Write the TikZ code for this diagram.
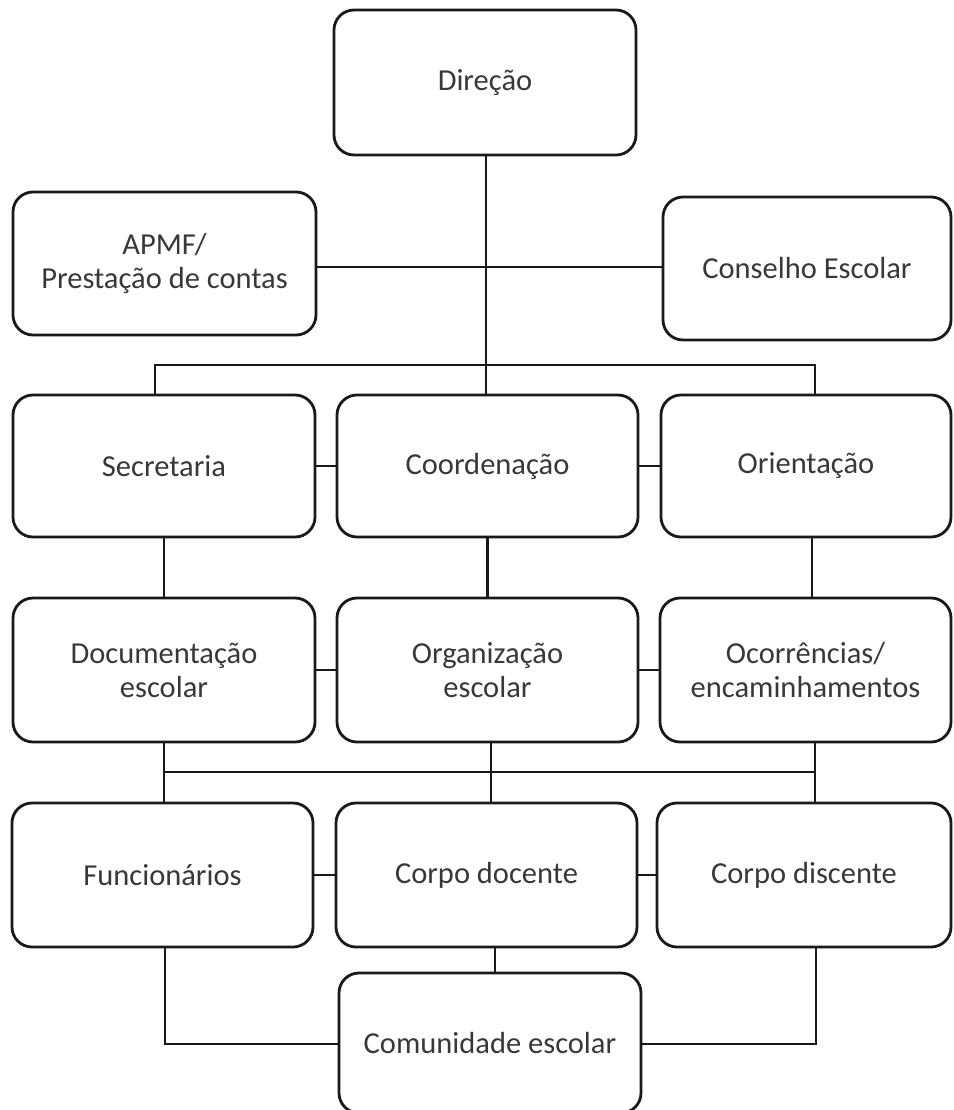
\documentclass[tikz,border=0pt]{standalone}
\usepackage{fontspec}
\setmainfont{Carlito}
\usetikzlibrary{calc}
\begin{document}
\begin{tikzpicture}[x=1pt,y=-1pt,
  box/.style={draw=black!90, line width=2.8pt, rounded corners=20pt, align=center,
    inner sep=0pt, font=\fontsize{30.5}{34}\selectfont, text=black!78},
  link/.style={draw=black!90, line width=2.8pt}]
\useasboundingbox (0,0) rectangle (953,1110);
% row 0
\node[box, minimum width=302pt, minimum height=145pt] (dir) at (485,82.5) {Direção};
% row 1
\node[box, minimum width=303pt, minimum height=143pt] (apmf) at (164.5,263.5) {APMF/\\Prestação de contas};
\node[box, minimum width=288pt, minimum height=143pt] (cons) at (807,268.5) {Conselho Escolar};
% row 2
\node[box, minimum width=302pt, minimum height=142pt] (sec) at (164,466) {Secretaria};
\node[box, minimum width=301pt, minimum height=142pt] (coord) at (487.5,466) {Coordenação};
\node[box, minimum width=290pt, minimum height=142pt] (ori) at (806,466) {Orientação};
% row 3
\node[box, minimum width=302pt, minimum height=144pt] (doc) at (164,670) {Documentação\\escolar};
\node[box, minimum width=301pt, minimum height=144pt] (org) at (487.5,670) {Organização\\escolar};
\node[box, minimum width=291pt, minimum height=144pt] (oco) at (805.5,670) {Ocorrências/\\encaminhamentos};
% row 4
\node[box, minimum width=301pt, minimum height=144pt] (fun) at (162.5,875) {Funcionários};
\node[box, minimum width=301pt, minimum height=144pt] (cdo) at (486.5,875) {Corpo docente};
\node[box, minimum width=294pt, minimum height=144pt] (cdi) at (804,875) {Corpo discente};
% row 5
\node[box, minimum width=302pt, minimum height=140pt] (com) at (490,1043) {Comunidade escolar};

% helper coordinates
\coordinate (h1) at (486,267);
\coordinate (b1l) at (155,365);
\coordinate (b1r) at (815,365);
\coordinate (b2l) at (164,772);
\coordinate (b2m) at (491,772);
\coordinate (b2r) at (815,772);
\coordinate (c1) at (812,0);
\coordinate (fl) at (165,1044);
\coordinate (fr) at (816,1044);

% connectors
\draw[link] (dir.south -| h1) -- (coord.north -| h1);
\draw[link] (apmf.east |- h1) -- (cons.west |- h1);
\draw[link] (sec.north -| b1l) -- (b1l) -- (b1r) -- (ori.north -| b1r);
\draw[link] (sec.east) -- (coord.west);
\draw[link] (coord.east) -- (ori.west);
\draw[link] (sec.south) -- (doc.north);
\draw[link] (coord.south) -- (org.north);
\draw[link] (ori.south -| c1) -- (oco.north -| c1);
\draw[link] (doc.east) -- (org.west);
\draw[link] (org.east) -- (oco.west);
\draw[link] (doc.south -| b2l) -- (fun.north -| b2l);
\draw[link] (org.south -| b2m) -- (cdo.north -| b2m);
\draw[link] (oco.south -| b2r) -- (cdi.north -| b2r);
\draw[link] (b2l) -- (b2r);
\draw[link] (fun.east) -- (cdo.west);
\draw[link] (cdo.east) -- (cdi.west);
\draw[link] (cdo.south -| 495,0) -- (com.north -| 495,0);
\draw[link] (fun.south -| fl) -- (fl) -- (com.west |- fl);
\draw[link] (cdi.south -| fr) -- (fr) -- (com.east |- fr);
\end{tikzpicture}
\end{document}
